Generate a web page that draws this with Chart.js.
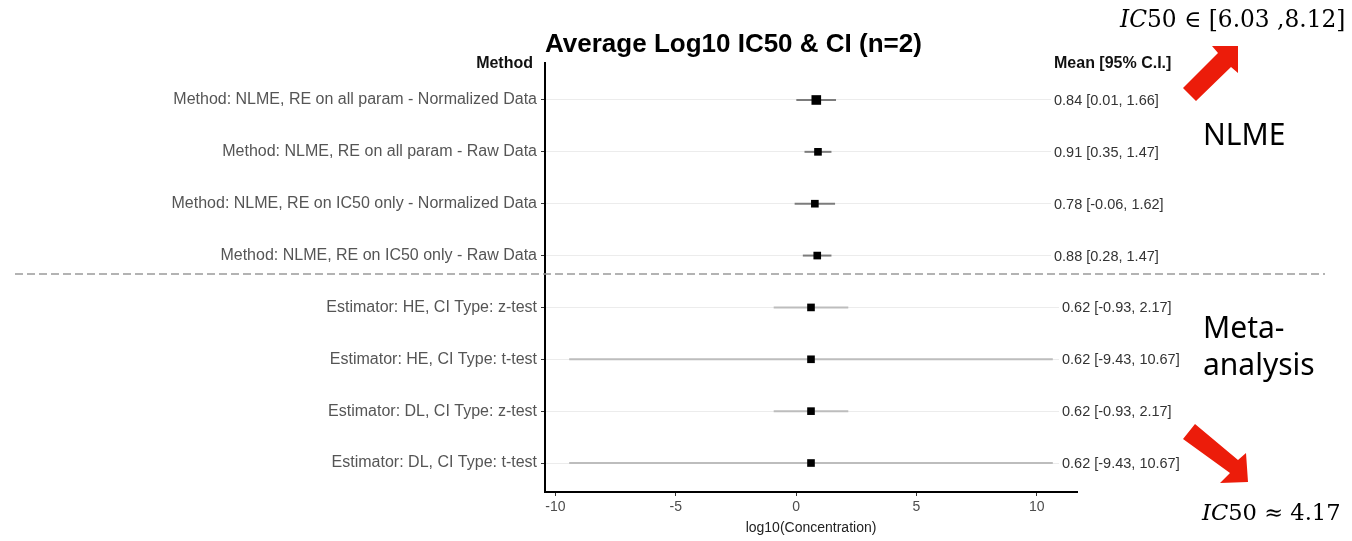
<!DOCTYPE html>
<html>
<head>
<meta charset="utf-8">
<script src="https://cdn.jsdelivr.net/npm/chart.js@4.4.1/dist/chart.umd.min.js"></script>
<style>
  html, body { margin: 0; padding: 0; background: #fff; }
  #wrap { width: 1352px; height: 541px; position: relative; }
</style>
</head>
<body>
<div id="wrap"><canvas id="forestChart" width="1352" height="541"></canvas></div>
<script>
// rows of the forest plot, top to bottom
var methods = [
  'Method: NLME, RE on all param - Normalized Data',
  'Method: NLME, RE on all param - Raw Data',
  'Method: NLME, RE on IC50 only - Normalized Data',
  'Method: NLME, RE on IC50 only - Raw Data',
  'Estimator: HE, CI Type: z-test',
  'Estimator: HE, CI Type: t-test',
  'Estimator: DL, CI Type: z-test',
  'Estimator: DL, CI Type: t-test'
];
var means = [0.84, 0.91, 0.78, 0.88, 0.62, 0.62, 0.62, 0.62];
var lower = [0.01, 0.35, -0.06, 0.28, -0.93, -9.43, -0.93, -9.43];
var upper = [1.66, 1.47, 1.62, 1.47, 2.17, 10.67, 2.17, 10.67];
var xTicks = [-10, -5, 0, 5, 10];
var nlmeRows = 4;          // first 4 rows are NLME, the rest meta-analysis
var separatorAt = 4.355;   // dashed line between the two groups

var sansFont = '"Liberation Sans", Arial, Helvetica, sans-serif';

document.addEventListener("DOMContentLoaded", () => {
  var ctx = document.getElementById('forestChart').getContext('2d');

  // error bars, one little line dataset per row
  var ciSets = methods.map((m, i) => ({
    label: 'CI ' + (i + 1),
    data: [{ x: lower[i], y: i + 1 }, { x: upper[i], y: i + 1 }],
    showLine: true,
    borderColor: i < nlmeRows ? '#7c7c7c' : '#bdbdbd',
    borderWidth: 2,
    pointRadius: 0,
    pointHoverRadius: 0
  }));

  var meanSet = {
    label: 'Mean',
    data: means.map((v, i) => ({ x: v, y: i + 1 })),
    pointStyle: 'rect',
    pointRadius: c => c.dataIndex === 0 ? 6.8 : 5.4,
    backgroundColor: '#000',
    borderColor: '#000',
    borderWidth: 0
  };

  var annotate = {
    id: 'annotate',
    afterDraw(chart) {
      var c = chart.ctx, area = chart.chartArea;
      var ys = chart.scales.y;
      c.save();

      // title + column headers
      c.fillStyle = '#000';
      c.font = 'bold 26px ' + sansFont;
      c.textAlign = 'left';
      c.textBaseline = 'alphabetic';
      c.fillText('Average Log10 IC50 & CI (n=2)', area.left, 52);

      c.font = 'bold 16px ' + sansFont;
      c.textBaseline = 'middle';
      c.fillStyle = '#111';
      c.textAlign = 'right';
      c.fillText('Method', area.left - 12, 64);
      c.textAlign = 'left';
      c.fillText('Mean [95% C.I.]', area.right - 23, 64);

      // mean [CI] text column
      c.font = '14.5px ' + sansFont;
      methods.forEach((m, i) => {
        var y = ys.getPixelForValue(i + 1);
        var x = area.right - (i < nlmeRows ? 23 : 15);
        c.fillStyle = '#fff';
        c.fillRect(x - 3, y - 8, area.right - x + 4, 16);
        c.fillStyle = '#333';
        c.fillText(means[i].toFixed(2) + ' [' + lower[i].toFixed(2) + ', ' + upper[i].toFixed(2) + ']', x, y + 1);
      });

      // dashed group separator
      var sy = ys.getPixelForValue(separatorAt);
      c.strokeStyle = '#9a9a9a';
      c.lineWidth = 1.5;
      c.setLineDash([8, 4]);
      c.beginPath();
      c.moveTo(15, sy);
      c.lineTo(1325, sy);
      c.stroke();
      c.setLineDash([]);

      // red arrows
      c.fillStyle = '#ec1c0a';
      var arrowUp = [[1183, 88], [1218, 53], [1212, 46], [1238, 46], [1238, 73], [1231, 67], [1196, 101]];
      var arrowDown = [[1195, 424], [1238, 460], [1246, 453], [1248, 482], [1220, 483], [1230, 473], [1183, 439]];
      [arrowUp, arrowDown].forEach(poly => {
        c.beginPath();
        poly.forEach((p, k) => k ? c.lineTo(p[0], p[1]) : c.moveTo(p[0], p[1]));
        c.closePath();
        c.fill();
      });

      // side notes
      c.fillStyle = '#000';
      c.textAlign = 'left';
      c.textBaseline = 'alphabetic';
      c.font = '30px "Noto Sans", sans-serif';
      c.fillText('NLME', 1203, 145);
      c.fillText('Meta-', 1203, 338);
      c.fillText('analysis', 1203, 375);

      var serif = '"DejaVu Serif", serif';
      function mathText(x, y, size, rest) {
        c.font = 'italic ' + size + 'px ' + serif;
        c.fillText('IC', x, y);
        var w = c.measureText('IC').width;
        c.font = size + 'px ' + serif;
        c.fillText(rest, x + w, y);
      }
      mathText(1120, 27, 23.3, '50 \u2208 [6.03 ,8.12]');
      mathText(1202, 520, 22.6, '50 \u2248 4.17');

      c.restore();
    }
  };

  new Chart(ctx, {
    type: 'scatter',
    data: { datasets: [meanSet].concat(ciSets) },
    options: {
      responsive: false,
      animation: false,
      layout: { padding: { left: 0, right: 275, top: 63, bottom: 0 } },
      plugins: {
        legend: { display: false },
        tooltip: { enabled: false }
      },
      scales: {
        x: {
          type: 'linear',
          min: -10.435,
          max: 11.675,
          afterBuildTicks: axis => { axis.ticks = xTicks.map(v => ({ value: v })); },
          afterFit: axis => { axis.height = 49; },
          grid: { display: true, drawOnChartArea: false, tickLength: 4, tickColor: '#333' },
          border: { display: true, color: '#000', width: 2 },
          ticks: { color: '#4d4d4d', font: { family: sansFont, size: 14 }, padding: 3 },
          title: {
            display: true,
            text: 'log10(Concentration)',
            color: '#222',
            font: { family: sansFont, size: 14 },
            padding: { top: 0, bottom: 4 }
          }
        },
        y: {
          type: 'linear',
          reverse: true,
          min: 0.287,
          max: 8.559,
          afterBuildTicks: axis => { axis.ticks = methods.map((m, i) => ({ value: i + 1 })); },
          afterFit: axis => { axis.width = 545; },
          grid: { color: '#ececec', lineWidth: 1, tickLength: 4, tickColor: '#333' },
          border: { display: true, color: '#000', width: 2 },
          ticks: {
            color: '#555',
            font: { family: sansFont, size: 16 },
            padding: 4,
            callback: v => methods[v - 1] || ''
          }
        }
      }
    },
    plugins: [annotate]
  });
});
</script>
</body>
</html>
